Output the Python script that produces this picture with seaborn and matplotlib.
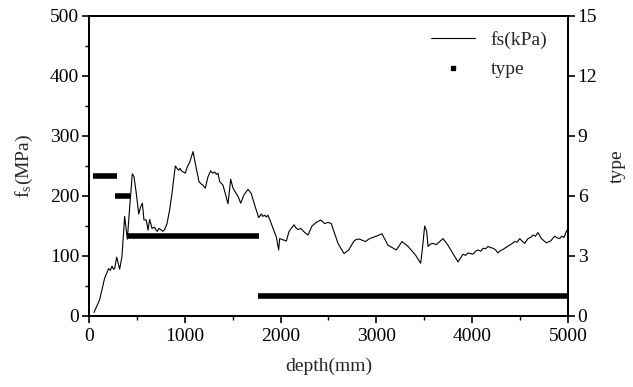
import numpy as np
import pandas as pd
import seaborn as sns
import matplotlib.pyplot as plt
from matplotlib.lines import Line2D
from matplotlib.ticker import MultipleLocator

# sleeve friction along the depth profile
depth = [52, 111, 163, 205, 222, 240, 255, 268, 289, 320, 344, 372, 400, 425,
         452, 470, 494, 519, 539, 557, 574, 598, 616, 633, 658, 685, 700, 713,
         730, 748, 770, 790, 814, 842, 866, 901, 918, 936, 950, 964, 985, 1006,
         1026, 1051, 1086, 1110, 1148, 1170, 1190, 1214, 1242, 1270, 1290, 1312,
         1330, 1347, 1364, 1399, 1423, 1451, 1479, 1503, 1538, 1560, 1583, 1618,
         1660, 1694, 1729, 1771, 1799, 1815, 1834, 1850, 1868, 1896, 1921, 1955,
         1980, 1990, 2025, 2060, 2088, 2140, 2160, 2182, 2210, 2234, 2260, 2286,
         2328, 2350, 2373, 2418, 2440, 2460, 2495, 2529, 2599, 2662, 2711, 2766,
         2795, 2826, 2855, 2884, 2930, 2965, 2999, 3030, 3058, 3121, 3208, 3267,
         3330, 3406, 3462, 3479, 3504, 3525, 3539, 3565, 3591, 3625, 3661, 3695,
         3747, 3800, 3852, 3904, 3930, 3956, 3985, 4008, 4035, 4061, 4090, 4113,
         4140, 4165, 4190, 4217, 4245, 4269, 4295, 4322, 4360, 4391, 4420, 4443,
         4470, 4496, 4520, 4548, 4582, 4610, 4635, 4660, 4687, 4722, 4774, 4819,
         4861, 4890, 4913, 4935, 4958, 4983, 5000]
fs = [6, 27, 63, 79, 76, 83, 78, 79, 98, 78, 99, 166, 128, 182,
      237, 232, 204, 170, 182, 188, 160, 160, 143, 161, 146, 148, 143, 141,
      146, 144, 141, 144, 154, 177, 204, 250, 246, 243, 246, 242, 240, 238,
      249, 256, 274, 254, 224, 220, 218, 213, 232, 242, 238, 240,
      236, 238, 224, 218, 204, 187, 228, 213, 204, 198, 188, 202,
      211, 204, 185, 164, 170, 166, 168, 165, 168, 157, 146, 132,
      110, 129, 127, 125, 141, 152, 147, 144, 146, 142, 138, 135,
      150, 153, 156, 160, 157, 154, 156, 154, 121, 104, 110, 125,
      128, 128, 126, 124, 129, 131, 133, 135, 137, 118, 110, 124,
      116, 102, 88, 110, 150, 141, 116, 120, 121, 119, 124, 129,
      118, 104, 90, 103, 101, 105, 104, 103, 108, 110, 108, 113,
      112, 116, 114, 113, 110, 105, 109, 111, 115, 118, 121, 124,
      123, 129, 125, 121, 129, 131, 135, 133, 139, 129, 122, 125,
      133, 130, 129, 133, 131, 141, 145]

# soil type classification by depth interval
type_start = [40, 275, 410, 1760]
type_end = [295, 430, 1775, 5000]
type_value = [7, 6, 4, 1]

sns.set_theme(style="ticks")
plt.rcParams['font.family'] = ['Liberation Serif', 'DejaVu Serif']
plt.rcParams['mathtext.fontset'] = 'stix'

fig = plt.figure(figsize=(6.33, 3.87), dpi=100)
ax = fig.add_axes([0.1406, 0.1835, 0.7567, 0.7752])

df = pd.DataFrame({"depth": depth, "fs": fs})
sns.lineplot(data=df, x="depth", y="fs", ax=ax, color="black", lw=0.8,
             legend=False)

ax2 = ax.twinx()
for s, e, v in zip(type_start, type_end, type_value):
    ax2.plot([s, e], [v, v], color="black", lw=4, solid_capstyle="butt")

ax.set_xlim(0, 5000)
ax.set_ylim(0, 500)
ax2.set_ylim(0, 15)
ax.xaxis.set_major_locator(MultipleLocator(1000))
ax.xaxis.set_minor_locator(MultipleLocator(500))
ax.yaxis.set_major_locator(MultipleLocator(100))
ax.yaxis.set_minor_locator(MultipleLocator(50))
ax2.yaxis.set_major_locator(MultipleLocator(3))

fsz = 14
ax.set_xlabel("depth(mm)", fontsize=fsz, labelpad=9)
ax.set_ylabel(r"f$_\mathregular{s}$(MPa)", fontsize=fsz, labelpad=11)
ax2.set_ylabel("type", fontsize=fsz, labelpad=8)

for a in (ax, ax2):
    a.tick_params(which="major", direction="out", length=5, width=1.2,
                  labelsize=fsz, color="black", labelcolor="black")
    a.tick_params(which="minor", direction="out", length=3, width=1.0,
                  color="black")
    for sp in a.spines.values():
        sp.set_visible(True)
        sp.set_color("black")
        sp.set_linewidth(1.4)
ax.tick_params(axis="x", pad=4)
ax.tick_params(axis="y", pad=2)
ax2.tick_params(axis="y", pad=2)

handles = [Line2D([], [], color="black", lw=0.8),
           Line2D([], [], color="black", marker="s", ms=2.5, ls="none")]
ax.legend(handles, ["fs(kPa)", "type"], loc="upper right", frameon=False,
          fontsize=fsz, handlelength=2.25, bbox_to_anchor=(0.973, 0.975),
          borderaxespad=0, labelspacing=0.6)

fig.savefig("out.png", dpi=100)
